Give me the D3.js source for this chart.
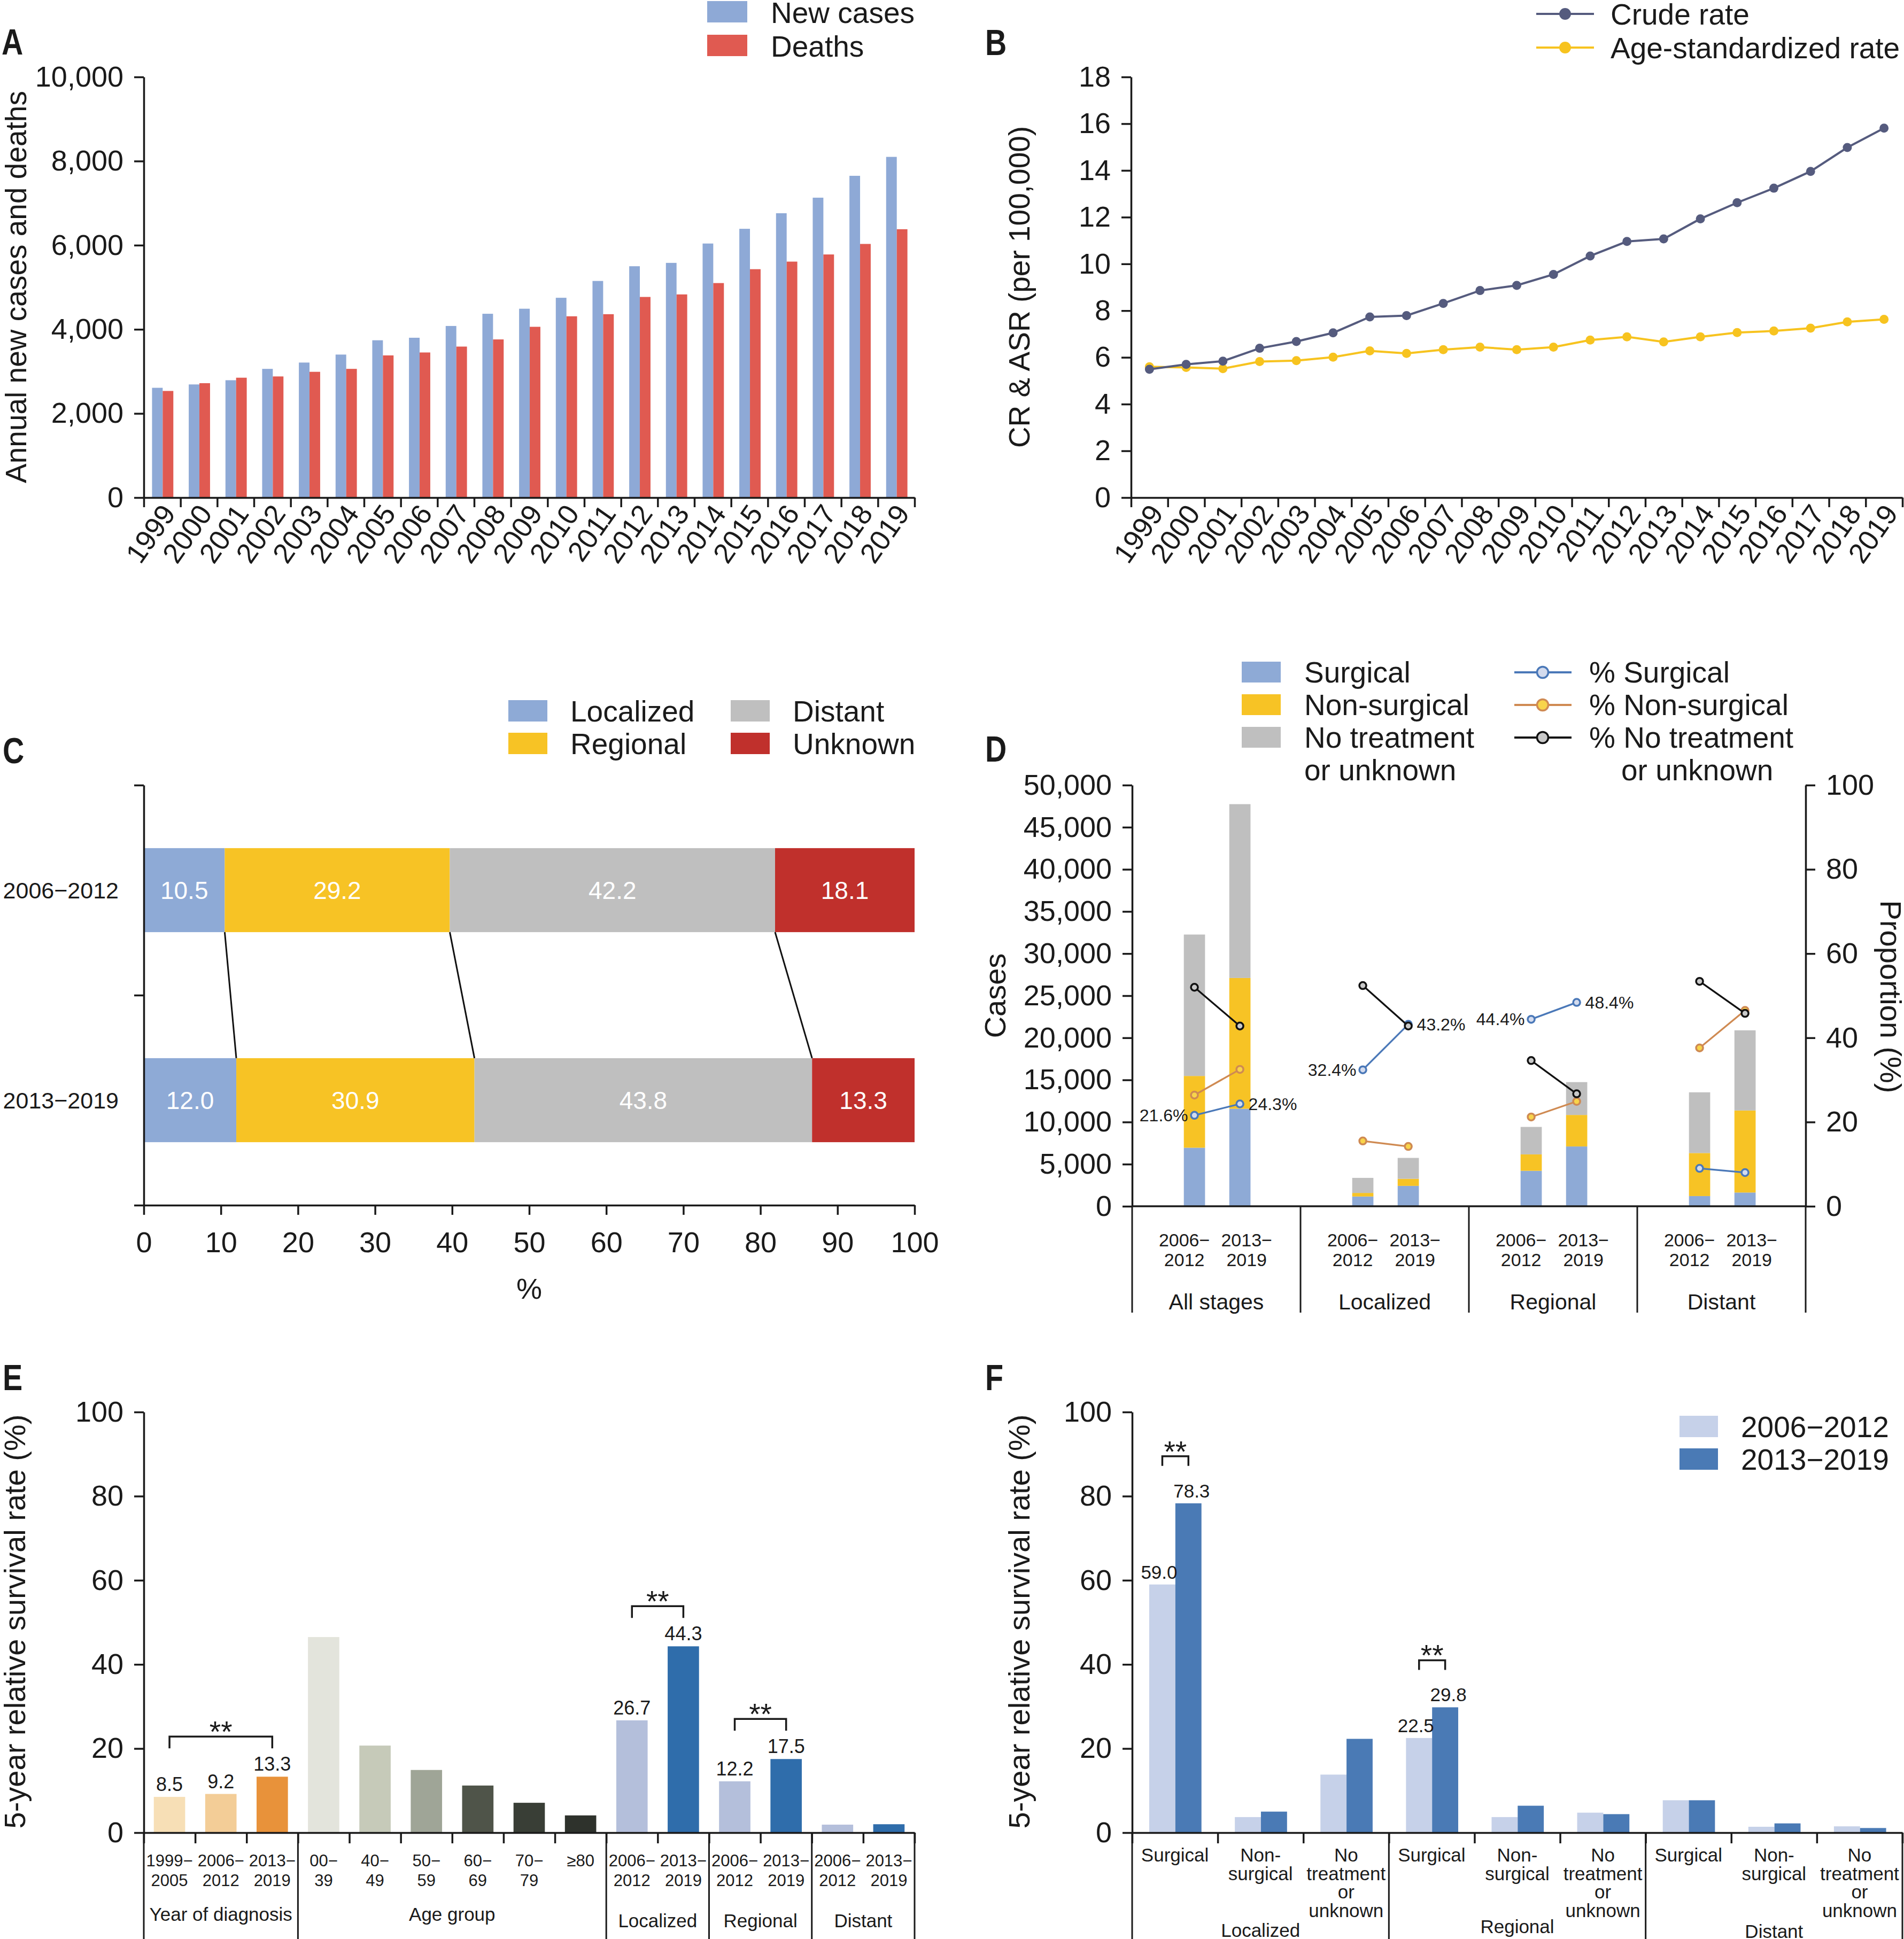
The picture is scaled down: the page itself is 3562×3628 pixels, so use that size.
<!DOCTYPE html>
<html><head><meta charset="utf-8">
<script src="https://cdn.jsdelivr.net/npm/d3@7"></script>
<style>
body{margin:0;background:#fff;}
svg text{font-family:"Liberation Sans",Arial,Helvetica,sans-serif;fill:#1a1a1a;}
</style></head><body>
<svg id="c" width="3562" height="3628" xmlns="http://www.w3.org/2000/svg"></svg>
<script>
// ================= DATA =================
// Panel A
const years = d3.range(1999, 2020).map(String);
const newCases = [2610,2690,2790,3060,3210,3400,3740,3800,4080,4370,4490,4750,5150,5500,5580,6040,6390,6760,7130,7650,8100];
const deaths   = [2535,2720,2850,2880,2990,3060,3380,3450,3590,3760,4060,4310,4360,4770,4830,5100,5430,5610,5780,6030,6380];
const aTicks = [0,2000,4000,6000,8000,10000];
// Panel B
const crudeRate = [5.49,5.70,5.84,6.39,6.68,7.05,7.73,7.79,8.31,8.86,9.08,9.55,10.34,10.96,11.07,11.93,12.62,13.24,13.96,14.98,15.81];
const asRate    = [5.60,5.57,5.52,5.82,5.86,6.01,6.28,6.17,6.33,6.44,6.33,6.44,6.74,6.88,6.66,6.88,7.06,7.13,7.25,7.52,7.63];
const bTicks = [0,2,4,6,8,10,12,14,16,18];
// Panel C
const periods = ["2006\u22122012","2013\u22122019"];
const stageNames = ["Localized","Regional","Distant","Unknown"];
const stageShare = [[10.5,29.2,42.2,18.1],[12.0,30.9,43.8,13.3]];
const cTicks = [0,10,20,30,40,50,60,70,80,90,100];
// Panel D
const dGroups = ["All stages","Localized","Regional","Distant"];
const dPeriodLabels = [["2006\u2212","2012"],["2013\u2212","2019"]];
const dTreatments = ["Surgical","Non-surgical","No treatment","or unknown"];
const dSurgical    = [[6950,11580],[1160,2420],[4210,7100],[1210,1630]];
const dNonSurgical = [[8520,15520],[420,840],[1950,3740],[5110,9740]];
const dNoTreatment = [[16790,20640],[1790,2480],[3260,3900],[7210,9520]];
const pctSurgical    = [[21.6,24.3],[32.4,43.2],[44.4,48.4],[9.0,8.0]];
const pctNonSurgical = [[26.4,32.5],[15.5,14.2],[21.2,24.9],[37.6,46.5]];
const pctNoTreatment = [[52.0,42.8],[52.4,42.8],[34.6,26.7],[53.4,45.8]];
const dLeftTicks = [0,5000,10000,15000,20000,25000,30000,35000,40000,45000,50000];
const dRightTicks = [0,20,40,60,80,100];
// Panel E
const eLabels = [["1999\u2212","2005"],["2006\u2212","2012"],["2013\u2212","2019"],["00\u2212","39"],["40\u2212","49"],["50\u2212","59"],["60\u2212","69"],["70\u2212","79"],["\u226580",""],["2006\u2212","2012"],["2013\u2212","2019"],["2006\u2212","2012"],["2013\u2212","2019"],["2006\u2212","2012"],["2013\u2212","2019"]];
const eValues = [8.5,9.2,13.3,46.5,20.7,14.9,11.2,7.1,4.1,26.7,44.3,12.2,17.5,1.9,2.0];
const eShowValue = [1,1,1,0,0,0,0,0,0,1,1,1,1,0,0];
const eColors = ["#f7dfb6","#f3cd97","#e8923a","#e3e4dc","#c6cab9","#9fa597","#4f5449","#393e36","#2e322c","#b4bfdb","#2f6dab","#b4bfdb","#2f6dab","#b4bfdb","#2f6dab"];
const eGroupNames = ["Year of diagnosis","Age group","Localized","Regional","Distant"];
const eGroupSizes = [3,6,2,2,2];
const eSignif = [[0,2],[9,10],[11,12]];
const survTicks = [0,20,40,60,80,100];
// Panel F
const fGroups = ["Localized","Regional","Distant"];
const fTreatLabels = [["Surgical"],["Non-","surgical"],["No","treatment","or","unknown"]];
const f2006 = [59.0,3.7,13.8,22.5,3.7,4.75,7.7,1.4,1.5];
const f2013 = [78.3,5.0,22.3,29.8,6.4,4.4,7.7,2.2,1.1];
const fShowValue = [1,0,0,1,0,0,0,0,0];
const fSignif = [0,3];

// ================= HELPERS =================
const svg = d3.select("#c");
const INK = "#1a1a1a";
const AXW = 3.5;
function styleAxis(g, fs) {
  g.attr("font-family", '"Liberation Sans", Arial, Helvetica, sans-serif').attr("font-size", fs);
  g.selectAll(".domain").attr("stroke", INK).attr("stroke-width", AXW);
  g.selectAll(".tick line").attr("stroke", INK).attr("stroke-width", AXW);
  g.selectAll(".tick text").attr("fill", INK);
  return g;
}
function panelTitle(t, x, y) {
  svg.append("text").attr("transform", `translate(${x},${y}) scale(0.82,1)`)
    .attr("font-weight", "bold").attr("font-size", 68).text(t);
}
function rotLabel(t, x, y, rot, fs) {
  svg.append("text").attr("transform", `translate(${x},${y}) rotate(${rot})`)
    .attr("text-anchor", "middle").attr("font-size", fs || 55).text(t);
}
function txt(t, x, y, fs, anchor, fill) {
  return svg.append("text").attr("x", x).attr("y", y).attr("font-size", fs)
    .attr("text-anchor", anchor || "start").style("fill", fill || INK).text(t);
}
function vline(x, y1, y2, w) {
  svg.append("line").attr("x1", x).attr("x2", x).attr("y1", y1).attr("y2", y2)
    .attr("stroke", INK).attr("stroke-width", w || AXW);
}

// ================= PANEL A =================
{
  const P = {l:269, r:1711, t:144, b:931};
  const y = d3.scaleLinear().domain([0,10000]).range([P.b,P.t]);
  const x = d3.scaleBand().domain(years).range([P.l,P.r]);
  const bw = x.bandwidth();
  const inner = d3.scaleBand().domain(["New cases","Deaths"]).range([0.225*bw, 0.805*bw]);
  const cols = {"New cases":"#8ea9d6","Deaths":"#e05a51"};
  const rows = years.map((yr,i)=>({yr, "New cases":newCases[i], "Deaths":deaths[i]}));
  ["New cases","Deaths"].forEach(k=>{
    svg.append("g").selectAll("rect").data(rows).join("rect")
      .attr("x", d=>x(d.yr)+inner(k)).attr("width", inner.bandwidth())
      .attr("y", d=>y(d[k])).attr("height", d=>y(0)-y(d[k])).attr("fill", cols[k]);
  });
  styleAxis(svg.append("g").attr("transform",`translate(${P.l},0)`)
    .call(d3.axisLeft(y).tickValues(aTicks).tickFormat(d3.format(",")).tickSize(18).tickPadding(20).tickSizeOuter(0)), 54);
  const xl = d3.scaleLinear().domain([0,years.length]).range([P.l,P.r]);
  styleAxis(svg.append("g").attr("transform",`translate(0,${P.b})`)
    .call(d3.axisBottom(xl).tickValues(d3.range(years.length+1)).tickFormat("").tickSize(18).tickSizeOuter(0)), 54);
  years.forEach(yr=>{
    svg.append("text").attr("transform",`translate(${x(yr)+bw/2+27},${P.b+30}) rotate(-55)`)
      .attr("text-anchor","end").attr("font-size",53).text(yr);
  });
  rotLabel("Annual new cases and deaths", 49, 537, -90, 55);
  panelTitle("A", 3, 102);
  // legend
  [["New cases",0],["Deaths",1]].forEach(([k,i])=>{
    svg.append("rect").attr("x",1323).attr("y",2+i*63).attr("width",75).attr("height",40).attr("fill",cols[k]);
    txt(k, 1442, 43+i*63, 55);
  });
}

// ================= PANEL B =================
{
  const P = {l:2116, r:3559, t:144, b:931};
  const y = d3.scaleLinear().domain([0,18]).range([P.b,P.t]);
  const x = d3.scaleBand().domain(years).range([P.l,P.r]);
  const bw = x.bandwidth();
  const series = [{name:"Crude rate", vals:crudeRate, col:"#555b7e"},{name:"Age-standardized rate", vals:asRate, col:"#f7c31f"}];
  styleAxis(svg.append("g").attr("transform",`translate(${P.l},0)`)
    .call(d3.axisLeft(y).tickValues(bTicks).tickSize(18).tickPadding(20).tickSizeOuter(0)), 54);
  const xl = d3.scaleLinear().domain([0,years.length]).range([P.l,P.r]);
  styleAxis(svg.append("g").attr("transform",`translate(0,${P.b})`)
    .call(d3.axisBottom(xl).tickValues(d3.range(years.length+1)).tickFormat("").tickSize(18).tickSizeOuter(0)), 54);
  years.forEach(yr=>{
    svg.append("text").attr("transform",`translate(${x(yr)+bw/2+28},${P.b+30}) rotate(-55)`)
      .attr("text-anchor","end").attr("font-size",53).text(yr);
  });
  series.slice().reverse().forEach(s=>{
    const pts = s.vals.map((v,i)=>[x(years[i])+bw/2, y(v)]);
    svg.append("path").attr("d", d3.line()(pts)).attr("fill","none").attr("stroke",s.col).attr("stroke-width",4);
    svg.append("g").selectAll("circle").data(pts).join("circle")
      .attr("cx",d=>d[0]).attr("cy",d=>d[1]).attr("r",8.5).attr("fill",s.col);
  });
  rotLabel("CR & ASR (per 100,000)", 1926, 537, -90, 55);
  panelTitle("B", 1843, 103);
  series.forEach((s,i)=>{
    const ly = 26 + i*63;
    svg.append("line").attr("x1",2874).attr("x2",2982).attr("y1",ly).attr("y2",ly).attr("stroke",s.col).attr("stroke-width",4);
    svg.append("circle").attr("cx",2928).attr("cy",ly).attr("r",11).attr("fill",s.col);
    txt(s.name, 3013, ly+20, 55);
  });
}

// ================= PANEL C =================
{
  const P = {l:269, r:1711, t:1469, b:2255};
  const x = d3.scaleLinear().domain([0,100]).range([P.l,P.r]);
  const y = d3.scaleBand().domain(periods).range([P.t,P.b]);
  const bh = y.bandwidth()*0.4;
  const cols = ["#8eaad6","#f7c325","#bfbfbf","#c0302c"];
  const cum = stageShare.map(r=>[0, ...d3.cumsum(r)]);
  periods.forEach((p,pi)=>{
    const yc = y(p)+y.bandwidth()/2;
    stageShare[pi].forEach((v,k)=>{
      svg.append("rect").attr("x",x(cum[pi][k])).attr("width",x(cum[pi][k+1])-x(cum[pi][k]))
        .attr("y",yc-bh/2).attr("height",bh).attr("fill",cols[k]);
      txt(d3.format(".1f")(v), (x(cum[pi][k])+x(cum[pi][k+1]))/2, yc+16, 46, "middle", "#ffffff");
    });
    txt(p, 222, yc+15, 43, "end");
  });
  // connectors
  const y0b = y(periods[0])+y.bandwidth()/2+bh/2, y1t = y(periods[1])+y.bandwidth()/2-bh/2;
  [1,2,3].forEach(k=>{
    svg.append("line").attr("x1",x(cum[0][k])).attr("x2",x(cum[1][k])).attr("y1",y0b).attr("y2",y1t)
      .attr("stroke","#111").attr("stroke-width",3);
  });
  styleAxis(svg.append("g").attr("transform",`translate(0,${P.b})`)
    .call(d3.axisBottom(x).tickValues(cTicks).tickSize(18).tickPadding(32).tickSizeOuter(0)), 54);
  const yl = d3.scaleLinear().domain([0,2]).range([P.b,P.t]);
  styleAxis(svg.append("g").attr("transform",`translate(${P.l},0)`)
    .call(d3.axisLeft(yl).tickValues([0,1,2]).tickFormat("").tickSize(18).tickSizeOuter(0)), 54);
  txt("%", (P.l+P.r)/2, 2430, 54, "middle");
  panelTitle("C", 5, 1428);
  stageNames.forEach((s,k)=>{
    const lx = k<2 ? 951 : 1367, ly = 1310 + (k%2)*61;
    svg.append("rect").attr("x",lx).attr("y",ly).attr("width",73).attr("height",40).attr("fill",cols[k]);
    txt(s, lx+116, ly+40, 55);
  });
}

// ================= PANEL D =================
{
  const P = {l:2118, r:3378, t:1469, b:2257};
  const y = d3.scaleLinear().domain([0,50000]).range([P.b,P.t]);
  const yR = d3.scaleLinear().domain([0,100]).range([P.b,P.t]);
  const g = d3.scaleBand().domain(dGroups).range([P.l,P.r]);
  const gw = g.bandwidth();
  const barX = d3.scalePoint().domain(periods).range([0.37*gw, 0.64*gw]);
  const labX = d3.scalePoint().domain(periods).range([0.31*gw, 0.68*gw]);
  const barW = 0.126*gw;
  const cols = ["#8eaad6","#f7c325","#bfbfbf"];
  const stackRows = [];
  dGroups.forEach((grp,gi)=>periods.forEach((p,pi)=>stackRows.push({grp,p,
    s:dSurgical[gi][pi], n:dNonSurgical[gi][pi], u:dNoTreatment[gi][pi]})));
  const stacked = d3.stack().keys(["s","n","u"])(stackRows);
  stacked.forEach((layer,k)=>{
    svg.append("g").selectAll("rect").data(layer).join("rect")
      .attr("x",d=>g(d.data.grp)+barX(d.data.p)-barW/2).attr("width",barW)
      .attr("y",d=>y(d[1])).attr("height",d=>y(d[0])-y(d[1])).attr("fill",cols[k]);
  });
  // axes
  styleAxis(svg.append("g").attr("transform",`translate(${P.l},0)`)
    .call(d3.axisLeft(y).tickValues(dLeftTicks).tickFormat(d3.format(",")).tickSize(18).tickPadding(20).tickSizeOuter(0)), 54);
  styleAxis(svg.append("g").attr("transform",`translate(${P.r},0)`)
    .call(d3.axisRight(yR).tickValues(dRightTicks).tickSize(18).tickPadding(20).tickSizeOuter(0)), 54);
  svg.append("line").attr("x1",P.l).attr("x2",P.r).attr("y1",P.b).attr("y2",P.b).attr("stroke",INK).attr("stroke-width",AXW);
  d3.range(dGroups.length+1).forEach(i=>vline(P.l+i*gw, P.b, 2456, 3));
  // lines
  const pctSeries = [pctSurgical, pctNonSurgical, pctNoTreatment];
  const lineCols = ["#4a78b8","#cf8a52","#111111"];
  const markFill = ["#d3dbee","#f8d44a","#c9c9c9"];
  pctSeries.forEach((ser,k)=>{
    dGroups.forEach((grp,gi)=>{
      const pts = periods.map((p,pi)=>[g(grp)+barX(p), yR(ser[gi][pi])]);
      svg.append("path").attr("d",d3.line()(pts)).attr("fill","none").attr("stroke",lineCols[k]).attr("stroke-width",3.3);
      pts.forEach(pt=>svg.append("circle").attr("cx",pt[0]).attr("cy",pt[1]).attr("r",6.5)
        .attr("fill",markFill[k]).attr("stroke",lineCols[k]).attr("stroke-width",3.5));
    });
  });
  [0,1,2].forEach(gi=>{
    const grp = dGroups[gi];
    txt(d3.format(".1f")(pctSurgical[gi][0])+"%", g(grp)+barX(periods[0])-12, yR(pctSurgical[gi][0])+11, 32, "end");
    txt(d3.format(".1f")(pctSurgical[gi][1])+"%", g(grp)+barX(periods[1])+16, yR(pctSurgical[gi][1])+11, 32, "start");
  });
  // x labels
  dGroups.forEach((grp,gi)=>{
    periods.forEach((p,pi)=>{
      txt(dPeriodLabels[pi][0], g(grp)+labX(p), 2332, 34, "middle");
      txt(dPeriodLabels[pi][1], g(grp)+labX(p), 2369, 34, "middle");
    });
    txt(grp, g(grp)+gw/2, 2450, 41, "middle");
  });
  rotLabel("Cases", 1881, 1863, -90, 56);
  rotLabel("Proportion (%)", 3518, 1865, 90, 56);
  panelTitle("D", 1843, 1425);
  // legend
  [0,1,2].forEach(k=>{
    svg.append("rect").attr("x",2323).attr("y",1238+k*61).attr("width",73).attr("height",39).attr("fill",cols[k]);
    const ly = 1258 + k*61;
    svg.append("line").attr("x1",2833).attr("x2",2940).attr("y1",ly).attr("y2",ly).attr("stroke",lineCols[k]).attr("stroke-width",4);
    svg.append("circle").attr("cx",2886).attr("cy",ly).attr("r",10.5).attr("fill",markFill[k]).attr("stroke",lineCols[k]).attr("stroke-width",3.5);
  });
  dTreatments.forEach((t,k)=>{
    txt(t, 2440, 1277+k*61, 55);
  });
  txt("% "+dTreatments[0], 2973, 1277, 55);
  txt("% "+dTreatments[1], 2973, 1338, 55);
  txt("% "+dTreatments[2], 2973, 1399, 55);
  txt(dTreatments[3], 3033, 1460, 55);
}

// ================= PANEL E =================
{
  const P = {l:269, r:1711, t:2642, b:3429};
  const y = d3.scaleLinear().domain([0,100]).range([P.b,P.t]);
  const x = d3.scaleBand().domain(d3.range(eValues.length)).range([P.l,P.r]);
  const bw = x.bandwidth();
  const w = bw*0.61;
  svg.append("g").selectAll("rect").data(eValues).join("rect")
    .attr("x",(d,i)=>x(i)+(bw-w)/2).attr("width",w)
    .attr("y",d=>y(d)).attr("height",d=>y(0)-y(d)).attr("fill",(d,i)=>eColors[i]);
  eValues.forEach((v,i)=>{ if (eShowValue[i]) txt(d3.format(".1f")(v), x(i)+bw/2, y(v)-11, 36, "middle"); });
  styleAxis(svg.append("g").attr("transform",`translate(${P.l},0)`)
    .call(d3.axisLeft(y).tickValues(survTicks).tickSize(18).tickPadding(20).tickSizeOuter(0)), 54);
  const xl = d3.scaleLinear().domain([0,eValues.length]).range([P.l,P.r]);
  styleAxis(svg.append("g").attr("transform",`translate(0,${P.b})`)
    .call(d3.axisBottom(xl).tickValues(d3.range(eValues.length+1)).tickFormat("").tickSize(20).tickSizeOuter(0)), 54);
  // group separators
  const bounds = [0, ...d3.cumsum(eGroupSizes)];
  bounds.forEach(b=>vline(xl(b), P.b, 3628, 3));
  eLabels.forEach((ls,i)=>{
    txt(ls[0], x(i)+bw/2, 3492, 31, "middle");
    if (ls[1]) txt(ls[1], x(i)+bw/2, 3529, 31, "middle");
  });
  eGroupNames.forEach((n,gi)=>{
    const cx = (xl(bounds[gi])+xl(bounds[gi+1]))/2;
    txt(n, cx, gi<2 ? 3594 : 3606, 35, "middle");
  });
  eSignif.forEach(([a,b])=>{
    const ly = y(Math.max(eValues[a],eValues[b])) - 75;
    const xa = x(a)+bw/2, xb = x(b)+bw/2;
    svg.append("path").attr("d",`M${xa},${ly+22}V${ly}H${xb}V${ly+22}`).attr("fill","none").attr("stroke",INK).attr("stroke-width",3.5);
    txt("**", (xa+xb)/2, ly+10, 55, "middle");
  });
  rotLabel("5-year relative survival rate (%)", 47, 3034, -90, 56);
  panelTitle("E", 5, 2601);
}

// ================= PANEL F =================
{
  const P = {l:2118, r:3559, t:2642, b:3429};
  const y = d3.scaleLinear().domain([0,100]).range([P.b,P.t]);
  const x = d3.scaleBand().domain(d3.range(f2006.length)).range([P.l,P.r]);
  const bw = x.bandwidth();
  const inner = d3.scaleBand().domain(periods).range([0.2*bw,0.81*bw]);
  const cols = ["#c6d1e9","#4a7ab5"];
  const series = [f2006, f2013];
  series.forEach((vals,pi)=>{
    svg.append("g").selectAll("rect").data(vals).join("rect")
      .attr("x",(d,i)=>x(i)+inner(periods[pi])).attr("width",inner.bandwidth())
      .attr("y",d=>y(d)).attr("height",d=>y(0)-y(d)).attr("fill",cols[pi]);
  });
  series.forEach((vals,pi)=>vals.forEach((v,i)=>{
    if (fShowValue[i]) txt(d3.format(".1f")(v), x(i)+inner(periods[pi])+inner.bandwidth()/2 + (pi? 6 : -6), y(v)-11, 35, "middle");
  }));
  styleAxis(svg.append("g").attr("transform",`translate(${P.l},0)`)
    .call(d3.axisLeft(y).tickValues(survTicks).tickSize(18).tickPadding(20).tickSizeOuter(0)), 54);
  const xl = d3.scaleLinear().domain([0,f2006.length]).range([P.l,P.r]);
  styleAxis(svg.append("g").attr("transform",`translate(0,${P.b})`)
    .call(d3.axisBottom(xl).tickValues(d3.range(f2006.length+1)).tickFormat("").tickSize(20).tickSizeOuter(0)), 54);
  [0,3,6,9].forEach(b=>vline(xl(b), P.b, 3628, 3));
  d3.range(f2006.length).forEach(i=>{
    const ls = fTreatLabels[i%3];
    ls.forEach((l,j)=>txt(l, x(i)+bw/2, 3483+j*34.5, 35, "middle"));
  });
  const gBase = [3624, 3617, 3626];
  fGroups.forEach((n,gi)=>txt(n, (xl(gi*3)+xl(gi*3+3))/2, gBase[gi], 35, "middle"));
  fSignif.forEach(i=>{
    const ly = y(Math.max(f2006[i],f2013[i])) - 88;
    const xa = x(i)+inner(periods[0])+inner.bandwidth()/2, xb = x(i)+inner(periods[1])+inner.bandwidth()/2;
    svg.append("path").attr("d",`M${xa},${ly+18}V${ly}H${xb}V${ly+18}`).attr("fill","none").attr("stroke",INK).attr("stroke-width",3.5);
    txt("**", (xa+xb)/2, ly+10, 55, "middle");
  });
  rotLabel("5-year relative survival rate (%)", 1926, 3034, -90, 56);
  panelTitle("F", 1843, 2601);
  periods.forEach((p,pi)=>{
    svg.append("rect").attr("x",3142).attr("y",2649+pi*61).attr("width",72).attr("height",40).attr("fill",cols[pi]);
    txt(p, 3257, 2689+pi*61, 55);
  });
}
</script>
</body></html>
